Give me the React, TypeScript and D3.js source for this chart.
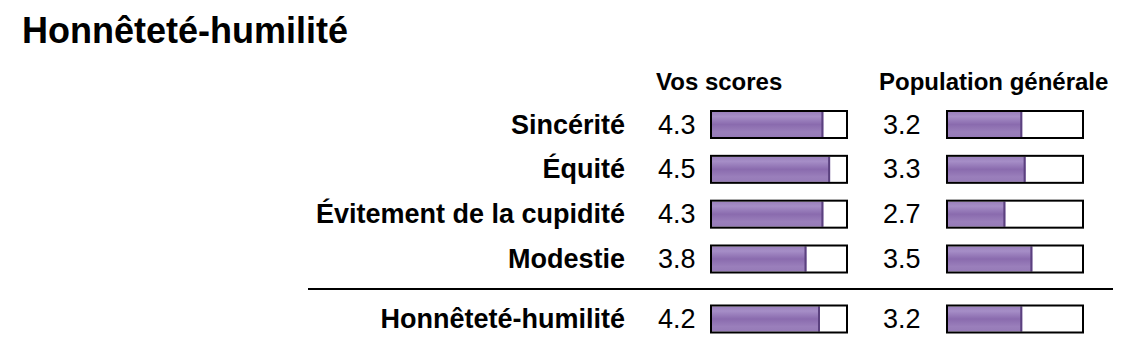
import React from "react";
import * as d3 from "d3";

const title = "Honnêteté-humilité";
const facets = ["Sincérité", "Équité", "Évitement de la cupidité", "Modestie"];
const yourScores = [4.3, 4.5, 4.3, 3.8];
const populationScores = [3.2, 3.3, 2.7, 3.5];
const totalLabel = "Honnêteté-humilité";
const totalYour = 4.2;
const totalPopulation = 3.2;
const headers = ["Vos scores", "Population générale"];
const scoreDomain = [1, 5];

const W = 1134;
const H = 357;
const FONT = "'Liberation Sans', Arial, Helvetica, sans-serif";

export default function App() {
  const rows = facets.map((f, i) => ({
    label: f,
    you: yourScores[i],
    pop: populationScores[i],
    total: false,
  }));
  rows.push({ label: totalLabel, you: totalYour, pop: totalPopulation, total: true });

  const yFacet = d3
    .scalePoint<string>()
    .domain(facets)
    .range([124.5, 259]);
  const yOf = (r: { label: string; total: boolean }) =>
    r.total ? 319 : (yFacet(r.label) as number);

  const frameW = 136;
  const frameH = 27;
  const cols = [
    { key: "you", textX: 658, frameX: 711, headerX: 656 },
    { key: "pop", textX: 883, frameX: 947, headerX: 879 },
  ];
  const scales = cols.map((c) =>
    d3.scaleLinear().domain(scoreDomain).range([c.frameX + 1, c.frameX + 1 + 135])
  );

  return (
    <svg
      width={W}
      height={H}
      style={{ position: "absolute", left: 0, top: 0, background: "#fff" }}
      fontFamily={FONT}
    >
      <defs>
        <linearGradient id="barGrad" x1="0" y1="0" x2="0" y2="1">
          <stop offset="0%" stopColor="#9a80bc" />
          <stop offset="18%" stopColor="#a68ec7" />
          <stop offset="50%" stopColor="#8a6bae" />
          <stop offset="80%" stopColor="#9a7fbb" />
          <stop offset="100%" stopColor="#967bb8" />
        </linearGradient>
      </defs>
      <rect x={0} y={0} width={W} height={H} fill="#fff" />
      <text x={22} y={42.5} fontSize={36} fontWeight="bold" fill="#000">
        {title}
      </text>
      {cols.map((c, i) => (
        <text key={c.key} x={c.headerX} y={90} fontSize={24} fontWeight="bold" fill="#000">
          {headers[i]}
        </text>
      ))}
      <line x1={308} x2={1113} y1={289} y2={289} stroke="#000" strokeWidth={2} />
      {rows.map((r) => {
        const cy = yOf(r);
        const top = cy - frameH / 2;
        return (
          <g key={r.label + (r.total ? "-t" : "")}>
            <text
              x={625}
              y={cy + 9}
              fontSize={27}
              fontWeight="bold"
              textAnchor="end"
              fill="#000"
            >
              {r.label}
            </text>
            {cols.map((c, ci) => {
              const v = ci === 0 ? r.you : r.pop;
              const sx = scales[ci];
              const x0 = sx(scoreDomain[0]);
              const x1 = sx(v);
              return (
                <g key={c.key}>
                  <text x={c.textX} y={cy + 9} fontSize={27} fill="#000">
                    {v.toFixed(1)}
                  </text>
                  <rect
                    x={x0}
                    y={top + 1}
                    width={x1 - x0}
                    height={frameH - 2}
                    fill="url(#barGrad)"
                  />
                  <rect x={x1 - 2} y={top + 1} width={2} height={frameH - 2} fill="#5b417f" />
                  <rect
                    x={c.frameX}
                    y={top}
                    width={frameW}
                    height={frameH}
                    fill="none"
                    stroke="#000"
                    strokeWidth={2}
                  />
                </g>
              );
            })}
          </g>
        );
      })}
    </svg>
  );
}
